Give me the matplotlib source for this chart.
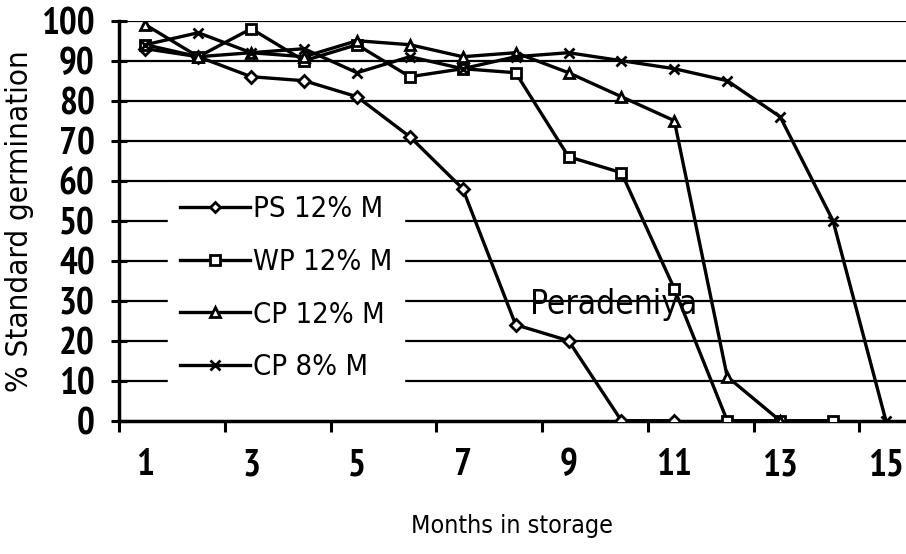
import numpy as np
import matplotlib.pyplot as plt
from matplotlib.lines import Line2D

# months in storage and % standard germination
ps12_months = [1, 2, 3, 4, 5, 6, 7, 8, 9, 10, 11]
ps12 = [93, 91, 86, 85, 81, 71, 58, 24, 20, 0, 0]

wp12_months = [1, 2, 3, 4, 5, 6, 7, 8, 9, 10, 11, 12, 13, 14]
wp12 = [94, 91, 98, 90, 94, 86, 88, 87, 66, 62, 33, 0, 0, 0]

cp12_months = [1, 2, 3, 4, 5, 6, 7, 8, 9, 10, 11, 12, 13]
cp12 = [99, 91, 92, 91, 95, 94, 91, 92, 87, 81, 75, 11, 0]

cp8_months = [1, 2, 3, 4, 5, 6, 7, 8, 9, 10, 11, 12, 13, 14, 15]
cp8 = [94, 97, 92, 93, 87, 91, 88, 91, 92, 90, 88, 85, 76, 50, 0]

series_names = ["PS 12% M", "WP 12% M", "CP 12% M", "CP 8% M"]
x_labels = [1, 3, 5, 7, 9, 11, 13, 15]
y_ticks = list(range(0, 101, 10))

plt.rcParams['font.family'] = ['DejaVu Sans']
plt.rcParams['font.stretch'] = 'condensed'
digits = ['PT Sans Narrow', 'DejaVu Sans']

fig = plt.figure(figsize=(9.06, 5.54), dpi=100)
ax = fig.add_axes([0.1313, 0.2406, 0.8687, 0.722])

style = dict(color='black', lw=2.4, markerfacecolor='white',
             markeredgecolor='black', markeredgewidth=2)
marker_sizes = {'D': 6, 's': 7.5, '^': 7.5, 'x': 7.5}

ax.plot(ps12_months, ps12, marker='D', ms=marker_sizes['D'], zorder=3, **style)
ax.plot(wp12_months, wp12, marker='s', ms=marker_sizes['s'], zorder=3, **style)
ax.plot(cp12_months, cp12, marker='^', ms=marker_sizes['^'], zorder=3, **style)
ax.plot(cp8_months, cp8, marker='x', ms=marker_sizes['x'], zorder=3, **style)

ax.set_xlim(0.5, 15.38)
ax.set_ylim(0, 100)

for y in y_ticks[1:]:
    ax.axhline(y, color='black', lw=1.6, zorder=1)

ax.spines['top'].set_visible(False)
ax.spines['right'].set_visible(False)
ax.spines['left'].set_linewidth(2.5)
ax.spines['bottom'].set_linewidth(2.5)

ax.set_yticks(y_ticks)
ax.set_yticklabels([str(v) for v in y_ticks], fontsize=27, fontweight='bold', family=digits)
ax.tick_params(axis='y', direction='inout', length=11, width=2.2, pad=12)

ax.set_xticks(x_labels)
ax.set_xticklabels([str(v) for v in x_labels], fontsize=27, fontweight='bold', family=digits)
ax.tick_params(axis='x', which='major', length=0, pad=20)
ax.set_xticks(np.arange(0.5, 15, 2), minor=True)
ax.tick_params(axis='x', which='minor', direction='out', length=8, width=2.2)

ax.set_ylabel("% Standard germination", fontsize=22.5, labelpad=5)
ax.set_xlabel("Months in storage", fontsize=18, labelpad=22)

ax.text(8.28, 29, "Peradeniya", fontsize=24, va='center', ha='left', zorder=4)

handles = [Line2D([], [], marker=m, ms=marker_sizes[m] - 1, **style) for m in ['D', 's', '^', 'x']]
leg = ax.legend(handles, series_names, loc='upper left', bbox_to_anchor=(0.044, 0.63),
                frameon=True, fancybox=False, framealpha=1, edgecolor='white',
                fontsize=21, handlelength=2.4, handletextpad=0.1, labelspacing=0.85,
                borderpad=0.4)
leg.set_zorder(5)

fig.savefig("out.png", dpi=100)
